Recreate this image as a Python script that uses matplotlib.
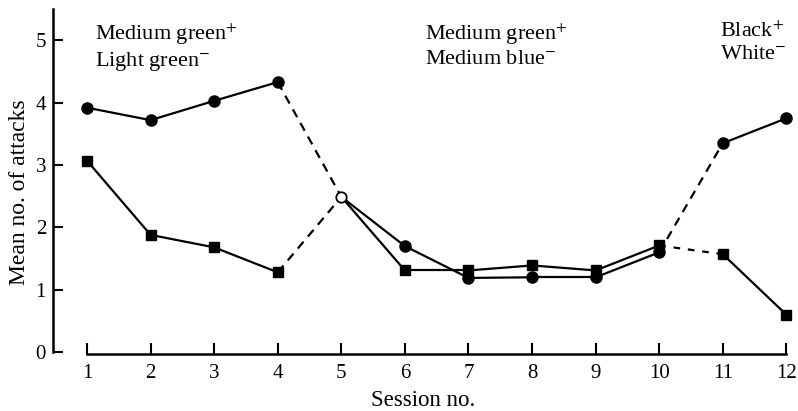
import numpy as np
import matplotlib.pyplot as plt

plt.rcParams['font.family'] = ['Liberation Serif', 'DejaVu Serif']
plt.rcParams['mathtext.fontset'] = 'stix'

sessions = np.arange(1, 13)
circles = [3.92, 3.72, 4.03, 4.33, 2.49, 1.70, 1.19, 1.20, 1.20, 1.60, 3.35, 3.75]
squares = [3.07, 1.88, 1.68, 1.28, 2.49, 1.31, 1.31, 1.39, 1.31, 1.71, 1.57, 0.60]
# line style of each step between sessions
circle_steps = ['-', '-', '-', 'd', '-', '-', '-', '-', '-', 'd', '-']
square_steps = ['-', '-', '-', 'd', '-', '-', '-', '-', '-', 'f', '-']
labels = [(1.13, r'Medium green$^{+}$' + '\n' + r'Light green$^{-}$'),
          (6.32, r'Medium green$^{+}$' + '\n' + r'Medium blue$^{-}$'),
          (10.95, r'Black$^{+}$' + '\n' + r'White$^{-}$')]

dash = {'-': '-', 'd': (0, (4, 3)), 'f': (0, (3, 3.5))}

fig = plt.figure(figsize=(7.98, 4.11), dpi=100)
ax = fig.add_axes([0.0664, 0.1387, 0.927, 0.839])

for vals, steps in [(circles, circle_steps), (squares, square_steps)]:
    for i, st in enumerate(steps):
        ax.plot(sessions[i:i + 2], vals[i:i + 2], color='black', lw=1.6,
                linestyle=dash[st], solid_capstyle='butt')

mask = sessions != 5
ax.plot(sessions[mask], np.array(circles)[mask], 'o', color='black', ms=8, zorder=3)
ax.plot(sessions[mask], np.array(squares)[mask], 's', color='black', ms=7.5, zorder=3)
ax.plot([5], [circles[4]], 'o', mfc='white', mec='black', mew=1.3, ms=7.5, zorder=4)

for x, txt in labels:
    ax.text(x, 5.3, txt, fontsize=16, va='top', ha='left', linespacing=1.2)

ax.set_xlim(0.465, 12.1)
ax.set_ylim(-0.03, 5.5)
ax.set_xticks(sessions)
ax.set_yticks(range(6))
ax.spines['top'].set_visible(False)
ax.spines['right'].set_visible(False)
ax.spines['bottom'].set_bounds(1, 12)
ax.spines['left'].set_bounds(0, 5.5)
ax.spines['bottom'].set_linewidth(1.8)
ax.spines['left'].set_linewidth(1.8)
ax.tick_params(axis='x', direction='in', length=8, width=1.5, labelsize=15, pad=7)
ax.tick_params(axis='y', direction='in', length=7, width=1.5, labelsize=15, pad=5)
ax.set_xlabel('Session no.', fontsize=16.5, labelpad=5)
ax.set_ylabel('Mean no. of attacks', fontsize=17)
ax.yaxis.set_label_coords(-0.031, 0.47)

fig.savefig('out.png', dpi=100)
